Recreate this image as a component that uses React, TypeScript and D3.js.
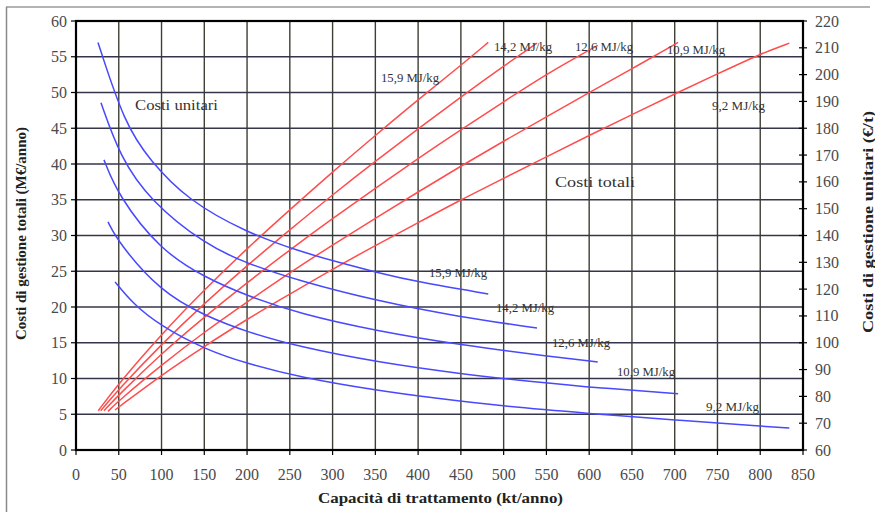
import React from 'react';
import * as d3 from 'd3';

const xTicks = d3.range(0, 851, 50);
const leftTicks = d3.range(0, 61, 5);
const rightTicks = d3.range(60, 221, 10);

// Costi unitari (€/t) vs capacità (kt/anno)
const unit159: [number, number][] = [[25.7,212],[57,181.5],[86.5,168],[130,153.3],[200,141],[262,134],[309,129.8],[352,126.2],[399,122.7],[482,118.2]];
const unit142: [number, number][] = [[29.2,189.5],[51.5,169.3],[86.5,153],[151,136.6],[200,129.5],[262,123],[352,115.6],[449,109.6],[539,105.5]];
const unit126: [number, number][] = [[32.7,168.2],[49.1,155],[98.2,134.6],[150.9,124.3],[200,117.5],[262,110.8],[352,104.4],[449,99.2],[554,94.9],[610,92.8]];
const unit109: [number, number][] = [[37.4,145.1],[49.1,137.6],[98.2,119.2],[150.9,110],[200,104],[262,98.4],[352,92.8],[449,88.4],[534,85.5],[613,83.1],[704,81.0]];
const unit92: [number, number][] = [[45.6,122.7],[66.7,114.5],[98.2,106.4],[150.9,97.5],[200,92.2],[262,87.1],[352,82.2],[417.5,79.4],[499,76.3],[601,73.6],[700,71.2],[803,68.8],[834,68.2]];

// Costi totali (M€/anno) vs capacità (kt/anno)
const tot159: [number, number][] = [[26,5.5],[50,9.3],[100,16.2],[150,22.4],[200,28.2],[250,33.6],[300,38.9],[350,44.0],[400,49.0],[450,53.8],[482,57.0]];
const tot142: [number, number][] = [[29,5.5],[50,8.5],[100,14.8],[150,20.5],[200,25.8],[250,30.8],[300,35.7],[350,40.4],[400,44.9],[450,49.4],[500,53.7],[539,56.9]];
const tot126: [number, number][] = [[32.7,5.5],[50,7.7],[100,13.5],[150,18.6],[200,23.4],[250,28.0],[300,32.4],[350,36.6],[400,40.8],[450,44.8],[500,48.7],[550,52.6],[610,56.6]];
const tot109: [number, number][] = [[37.4,5.4],[50,6.9],[100,11.9],[150,16.5],[200,20.7],[250,24.8],[300,28.7],[350,32.4],[400,36.1],[450,39.7],[500,43.2],[550,46.6],[600,50.0],[650,53.3],[704,57.0]];
const tot92: [number, number][] = [[45.6,5.6],[50,6.0],[100,10.5],[150,14.5],[200,18.3],[250,21.8],[300,25.3],[350,28.6],[400,31.8],[450,35.0],[500,38.0],[550,41.0],[600,44.0],[650,46.9],[700,49.8],[750,52.6],[800,55.4],[834,56.9]];

const unitSeries = [unit159, unit142, unit126, unit109, unit92];
const totSeries = [tot159, tot142, tot126, tot109, tot92];
const energyLabels = ['15,9 MJ/kg', '14,2 MJ/kg', '12,6 MJ/kg', '10,9 MJ/kg', '9,2 MJ/kg'];

const W = 875, H = 512;
const L = 76, R = 803, T = 21, B = 450;

const redLabelPos = [[381, 82], [494, 51], [575, 51], [667, 54], [712, 110]];
const blueLabelPos = [[429, 277], [496, 312], [552, 347], [617, 376], [706, 411]];

export default function App() {
  const x = d3.scaleLinear().domain([0, 850]).range([L, R]);
  const yL = d3.scaleLinear().domain([0, 60]).range([B, T]);
  const yR = d3.scaleLinear().domain([60, 220]).range([B, T]);

  const lineTot = d3.line<[number, number]>().x(d => x(d[0])).y(d => yL(d[1])).curve(d3.curveBasis);
  const lineUnit = d3.line<[number, number]>().x(d => x(d[0])).y(d => yR(d[1])).curve(d3.curveBasis);

  const font = '"Liberation Serif", "Times New Roman", serif';
  const tickColor = '#4a4a4a';
  const labLen = (lab: string) => (lab.length === 10 ? 58 : 53);

  return (
    <svg width={W} height={H} style={{ position: 'absolute', left: 0, top: 0, background: '#fff' }} fontFamily={font}>
      {/* outer frame */}
      <line x1={6} y1={7} x2={870} y2={7} stroke="#9a9a9a" strokeWidth={1.5} />
      <line x1={6.5} y1={7} x2={6.5} y2={H} stroke="#8a8a8a" strokeWidth={1.5} />

      {/* gridlines */}
      {xTicks.filter(t => t > 0 && t < 850).map(t => (
        <line key={'vx' + t} x1={x(t)} x2={x(t)} y1={T} y2={B} stroke="#3f3f34" strokeWidth={1.4} />
      ))}
      {leftTicks.filter(t => t > 0 && t < 60).map(t => (
        <line key={'hy' + t} x1={L} x2={R} y1={yL(t)} y2={yL(t)} stroke="#35354a" strokeWidth={1.4} />
      ))}

      {/* curves */}
      {totSeries.map((s, i) => (
        <path key={'t' + i} d={lineTot(s) || ''} fill="none" stroke="#ff4d4d" strokeWidth={1.5} />
      ))}
      {unitSeries.map((s, i) => (
        <path key={'u' + i} d={lineUnit(s) || ''} fill="none" stroke="#4848ff" strokeWidth={1.5} />
      ))}

      {/* plot border */}
      <rect x={L} y={T} width={R - L} height={B - T} fill="none" stroke="#000" strokeWidth={2.2} />

      {/* left axis */}
      {leftTicks.map(t => (
        <g key={'lt' + t}>
          <line x1={L - 5} x2={L} y1={yL(t)} y2={yL(t)} stroke="#000" strokeWidth={1.2} />
          <text x={L - 9} y={yL(t) + 5.5} textAnchor="end" fontSize={16} fill={tickColor}>{t}</text>
        </g>
      ))}
      {/* bottom axis */}
      {xTicks.map(t => (
        <g key={'bt' + t}>
          <line x1={x(t)} x2={x(t)} y1={B} y2={B + 5} stroke="#000" strokeWidth={1.2} />
          <text x={x(t)} y={480} textAnchor="middle" fontSize={16} fill={tickColor}>{t}</text>
        </g>
      ))}
      {/* right axis */}
      {rightTicks.map(t => (
        <g key={'rt' + t}>
          <line x1={R - 4} x2={R + 4} y1={yR(t)} y2={yR(t)} stroke="#000" strokeWidth={1.2} />
          <text x={R + 12} y={yR(t) + 5.5} textAnchor="start" fontSize={16} fill={tickColor}>{t}</text>
        </g>
      ))}

      {/* axis titles */}
      <text x={318} y={503} fontSize={15} fontWeight="bold" fill="#222" textLength={245} lengthAdjust="spacingAndGlyphs">Capacità di trattamento (kt/anno)</text>
      <text transform="translate(26,340) rotate(-90)" fontSize={14} fontWeight="bold" fill="#222" textLength={213} lengthAdjust="spacingAndGlyphs">Costi di gestione totali (M€/anno)</text>
      <text transform="translate(873,333) rotate(-90)" fontSize={14} fontWeight="bold" fill="#222" textLength={222} lengthAdjust="spacingAndGlyphs">Costi di gestione unitari (€/t)</text>

      {/* annotations */}
      <text x={135} y={110} fontSize={15} fill="#333" textLength={83} lengthAdjust="spacingAndGlyphs">Costi unitari</text>
      <text x={555} y={187} fontSize={15} fill="#333" textLength={80} lengthAdjust="spacingAndGlyphs">Costi totali</text>
      {energyLabels.map((lab, i) => (
        <text key={'rl' + i} x={redLabelPos[i][0]} y={redLabelPos[i][1]} fontSize={12.5} fill="#333" textLength={labLen(lab)} lengthAdjust="spacingAndGlyphs">{lab}</text>
      ))}
      {energyLabels.map((lab, i) => (
        <text key={'bl' + i} x={blueLabelPos[i][0]} y={blueLabelPos[i][1]} fontSize={12.5} fill="#333" textLength={labLen(lab)} lengthAdjust="spacingAndGlyphs">{lab}</text>
      ))}
    </svg>
  );
}
